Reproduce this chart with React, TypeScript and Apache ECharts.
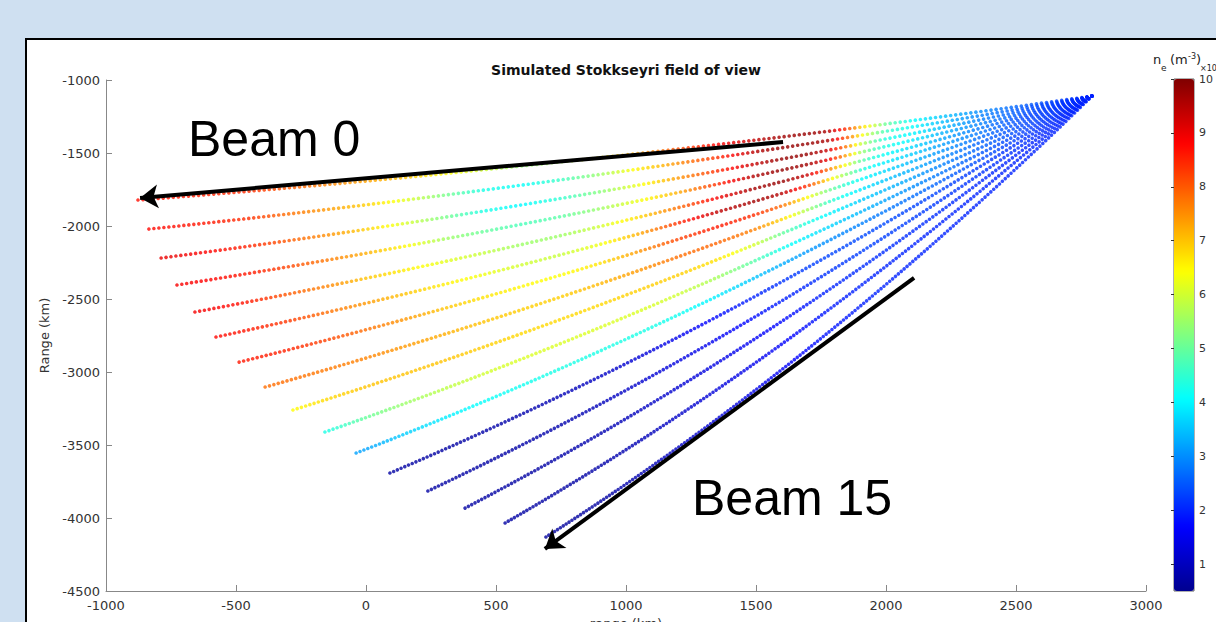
import React, { useEffect, useRef } from "react";
import * as echarts from "echarts";

// ---------- data ----------
const radarX = 2792;
const radarY = -1110;
const gateCount = 190;

// far end of each beam (km)
const beamEndX = [-877, -835, -788, -727, -658, -577, -488, -388, -281, -158, -38, 92, 238, 381, 535, 692];
const beamEndY = [-1822, -2021, -2219, -2404, -2589, -2760, -2932, -3103, -3260, -3411, -3555, -3692, -3815, -3932, -4034, -4130];
// point of each beam half way along its range (km)
const beamMidX = [958, 979, 1002, 1033, 1067, 1108, 1152, 1202, 1256, 1317, 1377, 1442, 1515, 1587, 1663, 1742];
const beamMidY = [-1521, -1627, -1734, -1833, -1932, -2025, -2118, -2210, -2297, -2379, -2458, -2534, -2602, -2667, -2726, -2781];

// n_e read along each beam at these x positions (km)
const neKnotX = [-900, -750, -600, -450, -300, -150, 0, 150, 300, 450, 600, 750, 900, 1050, 1200, 1350, 1500, 1600, 1700, 1775, 1850, 1900, 1950, 2000, 2100, 2200, 2350, 2550, 2800];
const neBeam0 = [8.7, 8.6, 8.5, 8.4, 8.0, 7.6, 7.3, 7.0, 6.5, 6.0, 5.4, 5.6, 6.4, 7.3, 8.1, 8.8, 9.4, 9.7, 9.8, 9.6, 8.3, 7.0, 6.0, 5.0, 4.1, 3.6, 3.0, 2.5, 2.0];
const neBeam1 = [8.8, 8.7, 8.6, 8.4, 7.8, 7.4, 6.9, 6.2, 5.2, 4.3, 4.1, 4.6, 5.5, 6.6, 7.5, 8.4, 9.5, 9.8, 9.8, 9.6, 8.0, 6.6, 5.5, 4.6, 4.1, 3.5, 2.9, 2.4, 2.0];
const neBeam2 = [9.0, 9.0, 8.8, 8.5, 8.0, 7.5, 6.9, 6.1, 5.2, 4.3, 4.0, 4.5, 5.3, 6.3, 7.4, 8.4, 9.4, 9.8, 9.8, 9.3, 7.6, 6.0, 5.0, 4.3, 4.0, 3.5, 2.9, 2.4, 2.0];
const neBeam3 = [8.9, 8.9, 8.8, 8.6, 8.2, 7.7, 7.2, 6.5, 5.6, 5.0, 4.7, 4.9, 5.5, 6.3, 7.2, 8.4, 9.6, 9.8, 9.7, 9.0, 7.2, 5.6, 4.8, 4.3, 3.9, 3.4, 2.9, 2.4, 2.0];
const neBeam4 = [8.9, 8.9, 8.9, 8.6, 8.0, 7.6, 7.0, 6.6, 6.2, 5.9, 5.5, 5.5, 6.0, 6.8, 7.8, 8.9, 9.7, 9.8, 9.3, 7.8, 6.2, 5.0, 4.4, 4.1, 3.7, 3.3, 2.8, 2.3, 2.0];
const neBeam5 = [8.8, 8.8, 8.8, 8.6, 8.3, 7.8, 7.4, 7.0, 6.6, 6.3, 6.0, 5.9, 6.3, 7.2, 8.4, 9.4, 9.7, 9.5, 8.3, 6.8, 5.3, 4.5, 4.1, 3.9, 3.6, 3.2, 2.8, 2.3, 2.0];
const neBeam6 = [8.6, 8.6, 8.6, 8.6, 8.5, 8.2, 7.8, 7.4, 7.0, 6.7, 6.5, 6.4, 6.7, 7.4, 8.2, 8.6, 8.4, 7.8, 6.4, 5.2, 4.4, 4.1, 3.9, 3.7, 3.4, 3.1, 2.7, 2.3, 2.0];
const neBeam7 = [7.8, 7.8, 7.8, 7.8, 7.8, 7.7, 7.6, 7.4, 7.2, 7.0, 6.9, 6.9, 7.1, 7.4, 7.8, 7.9, 7.6, 6.8, 5.6, 4.6, 4.1, 3.9, 3.7, 3.5, 3.3, 3.0, 2.6, 2.3, 2.0];
const neBeam8 = [6.4, 6.4, 6.4, 6.4, 6.4, 6.8, 7.0, 7.0, 7.0, 6.9, 6.8, 6.8, 6.8, 6.9, 6.9, 6.7, 6.0, 5.0, 4.3, 4.0, 3.8, 3.6, 3.5, 3.4, 3.2, 2.9, 2.6, 2.3, 2.0];
const neBeam9 = [4.3, 4.3, 4.3, 4.3, 4.3, 4.3, 5.0, 5.5, 5.8, 6.0, 6.1, 6.1, 6.1, 6.1, 6.0, 5.6, 4.8, 4.2, 3.9, 3.7, 3.5, 3.4, 3.3, 3.2, 3.0, 2.8, 2.5, 2.2, 2.0];
const neBeam10 = [3.2, 3.2, 3.2, 3.2, 3.2, 3.2, 3.2, 3.6, 3.9, 4.1, 4.2, 4.3, 4.3, 4.3, 4.2, 3.9, 3.5, 3.3, 3.1, 3.0, 2.9, 2.9, 2.8, 2.8, 2.7, 2.6, 2.4, 2.2, 2.0];
const neBeam11 = [0.7, 0.7, 0.7, 0.7, 0.7, 0.7, 0.7, 0.7, 0.7, 0.75, 0.8, 0.9, 1.05, 1.25, 1.5, 1.75, 2.0, 2.15, 2.25, 2.3, 2.35, 2.35, 2.35, 2.35, 2.3, 2.3, 2.2, 2.1, 2.0];
const neBeam12 = [0.7, 0.7, 0.7, 0.7, 0.7, 0.7, 0.7, 0.7, 0.7, 0.7, 0.75, 0.8, 0.95, 1.15, 1.35, 1.55, 1.8, 1.95, 2.05, 2.15, 2.2, 2.25, 2.25, 2.25, 2.25, 2.2, 2.15, 2.1, 2.0];
const neBeam13 = [0.7, 0.7, 0.7, 0.7, 0.7, 0.7, 0.7, 0.7, 0.7, 0.7, 0.7, 0.75, 0.85, 1.0, 1.2, 1.4, 1.6, 1.75, 1.9, 2.0, 2.05, 2.1, 2.1, 2.1, 2.1, 2.1, 2.05, 2.0, 2.0];
const neBeam14 = [0.7, 0.7, 0.7, 0.7, 0.7, 0.7, 0.7, 0.7, 0.7, 0.7, 0.7, 0.7, 0.75, 0.9, 1.1, 1.3, 1.5, 1.65, 1.8, 1.9, 1.95, 2.0, 2.0, 2.0, 2.0, 2.0, 2.0, 2.0, 2.0];
const neBeam15 = [0.65, 0.65, 0.65, 0.65, 0.65, 0.65, 0.65, 0.65, 0.65, 0.65, 0.65, 0.65, 0.7, 0.85, 1.05, 1.25, 1.45, 1.6, 1.75, 1.85, 1.9, 1.95, 2.0, 2.0, 2.0, 2.0, 2.0, 2.0, 2.0];
const neBeams = [neBeam0, neBeam1, neBeam2, neBeam3, neBeam4, neBeam5, neBeam6, neBeam7, neBeam8, neBeam9, neBeam10, neBeam11, neBeam12, neBeam13, neBeam14, neBeam15];

const colorbarTicks = [1, 2, 3, 4, 5, 6, 7, 8, 9, 10];
const neMin = 0.5;
const neMax = 10;
const jet = ["#00008F", "#0000FF", "#0080FF", "#00FFFF", "#80FF80", "#FFFF00", "#FF8000", "#FF0000", "#800000"];

// annotation arrows (km): from -> to
const arrowBeam0 = [[1604, -1425], [-869, -1808]];
const arrowBeam15 = [[2108, -2356], [688, -4212]];

function neAt(prof: number[], x: number) {
  if (x <= neKnotX[0]) return prof[0];
  for (let i = 0; i < neKnotX.length - 1; i++) {
    if (x <= neKnotX[i + 1]) {
      const f = (x - neKnotX[i]) / (neKnotX[i + 1] - neKnotX[i]);
      return prof[i] * (1 - f) + prof[i + 1] * f;
    }
  }
  return prof[prof.length - 1];
}

function buildGates() {
  const pts: number[][] = [];
  for (let b = 0; b < beamEndX.length; b++) {
    const p0x = beamEndX[b], p0y = beamEndY[b];
    const cx = 2 * beamMidX[b] - (p0x + radarX) / 2;
    const cy = 2 * beamMidY[b] - (p0y + radarY) / 2;
    for (let k = 0; k < gateCount; k++) {
      const t = k / (gateCount - 1);
      const u = 1 - t;
      const x = u * u * p0x + 2 * u * t * cx + t * t * radarX;
      const y = u * u * p0y + 2 * u * t * cy + t * t * radarY;
      pts.push([x, y, neAt(neBeams[b], x)]);
    }
  }
  return pts;
}

export default function App() {
  const ref = useRef<HTMLDivElement>(null);
  useEffect(() => {
    if (!ref.current) return;
    const chart = echarts.init(ref.current, undefined, { renderer: "svg" });
    const axisFont = "DejaVu Sans";
    const small = (text: string, x: number, y: number, size: number, va: string) => ({
      type: "text",
      x,
      y,
      z: 20,
      style: { text, font: `${size}px 'DejaVu Sans'`, fill: "#222", verticalAlign: va, textVerticalAlign: va },
    });
    const option: any = {
      animation: false,
      backgroundColor: "#cfe0f1",
      grid: [
        { left: 106, right: 70, top: 80, bottom: 31, outerBoundsMode: "none", containLabel: false },
        { left: 1174, top: 79, width: 20, height: 512, outerBoundsMode: "none", containLabel: false },
      ],
      xAxis: [
        {
          gridIndex: 0,
          type: "value",
          min: -1000,
          max: 3000,
          interval: 500,
          name: "range (km)",
          nameLocation: "middle",
          nameGap: 21,
          nameTextStyle: { color: "#333", fontSize: 13, fontFamily: axisFont, verticalAlign: "top" },
          axisLine: { onZero: false, lineStyle: { color: "#888", width: 1 } },
          axisTick: { inside: true, length: 6, lineStyle: { color: "#888" } },
          axisLabel: { color: "#333", fontSize: 13, fontFamily: axisFont, margin: 8, formatter: (v: number) => String(v) },
          splitLine: { show: false },
        },
        { gridIndex: 1, type: "value", show: false, min: 0, max: 1 },
      ],
      yAxis: [
        {
          gridIndex: 0,
          type: "value",
          min: -4500,
          max: -1000,
          interval: 500,
          name: "Range (km)",
          nameLocation: "middle",
          nameGap: 44,
          nameRotate: 90,
          nameTextStyle: { color: "#333", fontSize: 13, fontFamily: axisFont },
          axisLine: { onZero: false, lineStyle: { color: "#888", width: 1 } },
          axisTick: { inside: true, length: 6, lineStyle: { color: "#888" } },
          axisLabel: { color: "#333", fontSize: 13, fontFamily: axisFont, margin: 6, formatter: (v: number) => String(v) },
          splitLine: { show: false },
        },
        {
          gridIndex: 1,
          type: "value",
          min: neMin,
          max: neMax,
          position: "right",
          axisLine: { show: false },
          splitLine: { show: false },
          axisTick: { inside: true, length: 3, customValues: colorbarTicks, lineStyle: { color: "#333" } },
          axisLabel: { customValues: colorbarTicks, color: "#333", fontSize: 11, fontFamily: axisFont, margin: 5 },
        },
      ],
      visualMap: {
        type: "continuous",
        min: neMin,
        max: neMax,
        dimension: 2,
        seriesIndex: 0,
        inRange: { color: jet },
        orient: "vertical",
        left: 1174,
        top: 79,
        itemWidth: 20,
        itemHeight: 512,
        padding: 0,
        calculable: false,
        hoverLink: false,
        text: null,
      },
      graphic: [
        {
          type: "rect",
          z: -10,
          silent: true,
          shape: { x: 26, y: 39, width: 1260, height: 700 },
          style: { fill: "#ffffff", stroke: "#000000", lineWidth: 2 },
        },
        {
          type: "rect",
          z: 20,
          silent: true,
          shape: { x: 1174, y: 79, width: 20, height: 512 },
          style: { fill: "none", stroke: "#3a3a3a", lineWidth: 0.8 },
        },
        {
          type: "text",
          x: 626,
          y: 70,
          style: {
            text: "Simulated Stokkseyri field of view",
            font: "bold 14px 'DejaVu Sans'",
            fill: "#111",
            align: "center",
            verticalAlign: "middle",
            textAlign: "center",
            textVerticalAlign: "middle",
          },
        },
        {
          type: "text",
          x: 188,
          y: 164,
          style: { text: "Beam 0", font: "50px 'Liberation Sans'", fill: "#000", verticalAlign: "bottom", textVerticalAlign: "bottom" },
        },
        {
          type: "text",
          x: 692,
          y: 523,
          style: { text: "Beam 15", font: "50px 'Liberation Sans'", fill: "#000", verticalAlign: "bottom", textVerticalAlign: "bottom" },
        },
        small("n", 1153, 66, 13, "bottom"),
        small("e", 1161, 72, 9, "bottom"),
        small("(m", 1170, 66, 13, "bottom"),
        small("-3", 1188, 60, 8, "bottom"),
        small(")", 1196, 66, 13, "bottom"),
        small("\u00d710", 1200, 72, 8, "bottom"),
      ],
      series: [
        {
          type: "scatter",
          xAxisIndex: 0,
          yAxisIndex: 0,
          symbol: "circle",
          symbolSize: 3.6,
          silent: true,
          data: buildGates(),
        },
        {
          type: "lines",
          coordinateSystem: "cartesian2d",
          xAxisIndex: 0,
          yAxisIndex: 0,
          symbol: ["none", "arrow"],
          symbolSize: 18,
          silent: true,
          z: 5,
          lineStyle: { color: "#000", width: 4, opacity: 1, curveness: 0 },
          data: [{ coords: arrowBeam0 }, { coords: arrowBeam15 }],
        },
      ],
    };
    chart.setOption(option);
    return () => chart.dispose();
  }, []);
  return <div ref={ref} style={{ position: "fixed", left: 0, top: 0, width: 1216, height: 622 }} />;
}
